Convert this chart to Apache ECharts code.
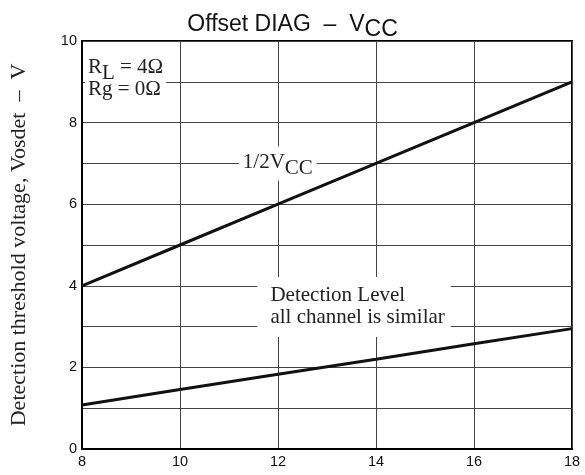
<!DOCTYPE html>
<html>
<head>
<meta charset="utf-8">
<script src="https://cdn.jsdelivr.net/npm/echarts@6/dist/echarts.min.js"></script>
<style>
  html, body { margin: 0; padding: 0; background: #fff; }
  #chart { width: 585px; height: 475px; }
</style>
</head>
<body>
<div id="chart"></div>
<script>
  // Vcc (V) sample points
  var vcc = [8, 10, 12, 14, 16, 18];
  // 1/2 Vcc line
  var halfVcc = [4, 5, 6, 7, 8, 9];
  // detection level
  var detectLevel = [1.08, 1.46, 1.83, 2.2, 2.58, 2.95];
  // labelled y ticks
  var yTickLabels = [0, 2, 4, 6, 8, 10];

  var serif = '"Liberation Serif", "Times New Roman", serif';
  var sans = '"Liberation Sans", Arial, sans-serif';

  function pairs(xs, ys) {
    return xs.map(function (x, i) { return [x, ys[i]]; });
  }

  // text note with a white box, anchored at its left edge
  function note(coord, text, pad) {
    var base = { fontFamily: serif, fontSize: 21, color: '#222', verticalAlign: 'top', lineHeight: 22 };
    return {
      coord: coord,
      symbol: 'rect',
      symbolSize: 0,
      label: {
        show: true,
        position: 'inside',
        align: 'left',
        verticalAlign: 'middle',
        formatter: text,
        backgroundColor: '#fff',
        padding: pad,
        fontFamily: serif,
        fontSize: 21,
        lineHeight: 22,
        color: '#222',
        rich: {
          n: base,
          s: Object.assign({}, base, { padding: [6, 0, 0, 0] })
        }
      }
    };
  }

  var chart = echarts.init(document.getElementById('chart'));
  chart.setOption({
    animation: false,
    backgroundColor: '#fff',
    title: {
      text: '{n|Offset DIAG  –  V}{s|CC}',
      left: 'center',
      top: 8,
      textStyle: {
        rich: {
          n: { fontFamily: sans, fontSize: 23, fontWeight: 'normal', color: '#111', verticalAlign: 'top', lineHeight: 23 },
          s: { fontFamily: sans, fontSize: 23, fontWeight: 'normal', color: '#111', verticalAlign: 'top', lineHeight: 23, padding: [5, 0, 0, 0] }
        }
      }
    },
    grid: {
      left: 82, right: 13, top: 41, bottom: 26,
      show: true, borderColor: '#000', borderWidth: 2
    },
    xAxis: {
      type: 'value',
      min: 8, max: 18, interval: 2,
      axisLine: { show: true, lineStyle: { color: '#000', width: 2 } },
      axisTick: { show: false },
      axisLabel: { fontFamily: sans, fontSize: 14.5, color: '#111', margin: 5 },
      splitLine: { show: true, lineStyle: { color: '#444', width: 1 } }
    },
    yAxis: {
      type: 'value',
      min: 0, max: 10, interval: 1,
      name: 'Detection threshold voltage, Vosdet  –  V',
      nameLocation: 'middle',
      nameGap: 52,
      nameTextStyle: { fontFamily: serif, fontSize: 22, color: '#222' },
      axisLine: { show: true, lineStyle: { color: '#000', width: 2 } },
      axisTick: { show: false },
      axisLabel: {
        fontFamily: sans, fontSize: 14.5, color: '#111', margin: 5,
        formatter: function (v) { return yTickLabels.indexOf(v) >= 0 ? String(v) : ''; }
      },
      splitLine: { show: true, lineStyle: { color: '#444', width: 1 } }
    },
    series: [
      {
        type: 'line',
        data: pairs(vcc, halfVcc),
        showSymbol: false,
        lineStyle: { color: '#111', width: 3 },
        markPoint: {
          silent: true,
          data: [
            note([8.06, 9.07], '{n|R}{s|L}{n| = 4Ω}\n{n|Rg = 0Ω}', [2, 3, 2, 3]),
            note([11.2, 7.0], '{n|1/2V}{s|CC}', [6, 4, 6, 4])
          ]
        }
      },
      {
        type: 'line',
        data: pairs(vcc, detectLevel),
        showSymbol: false,
        lineStyle: { color: '#111', width: 3 },
        markPoint: {
          silent: true,
          data: [
            note([11.58, 3.48], '{n|Detection Level}\n{n|all channel is similar}', [8, 6, 8, 13])
          ]
        }
      }
    ]
  });
</script>
</body>
</html>
